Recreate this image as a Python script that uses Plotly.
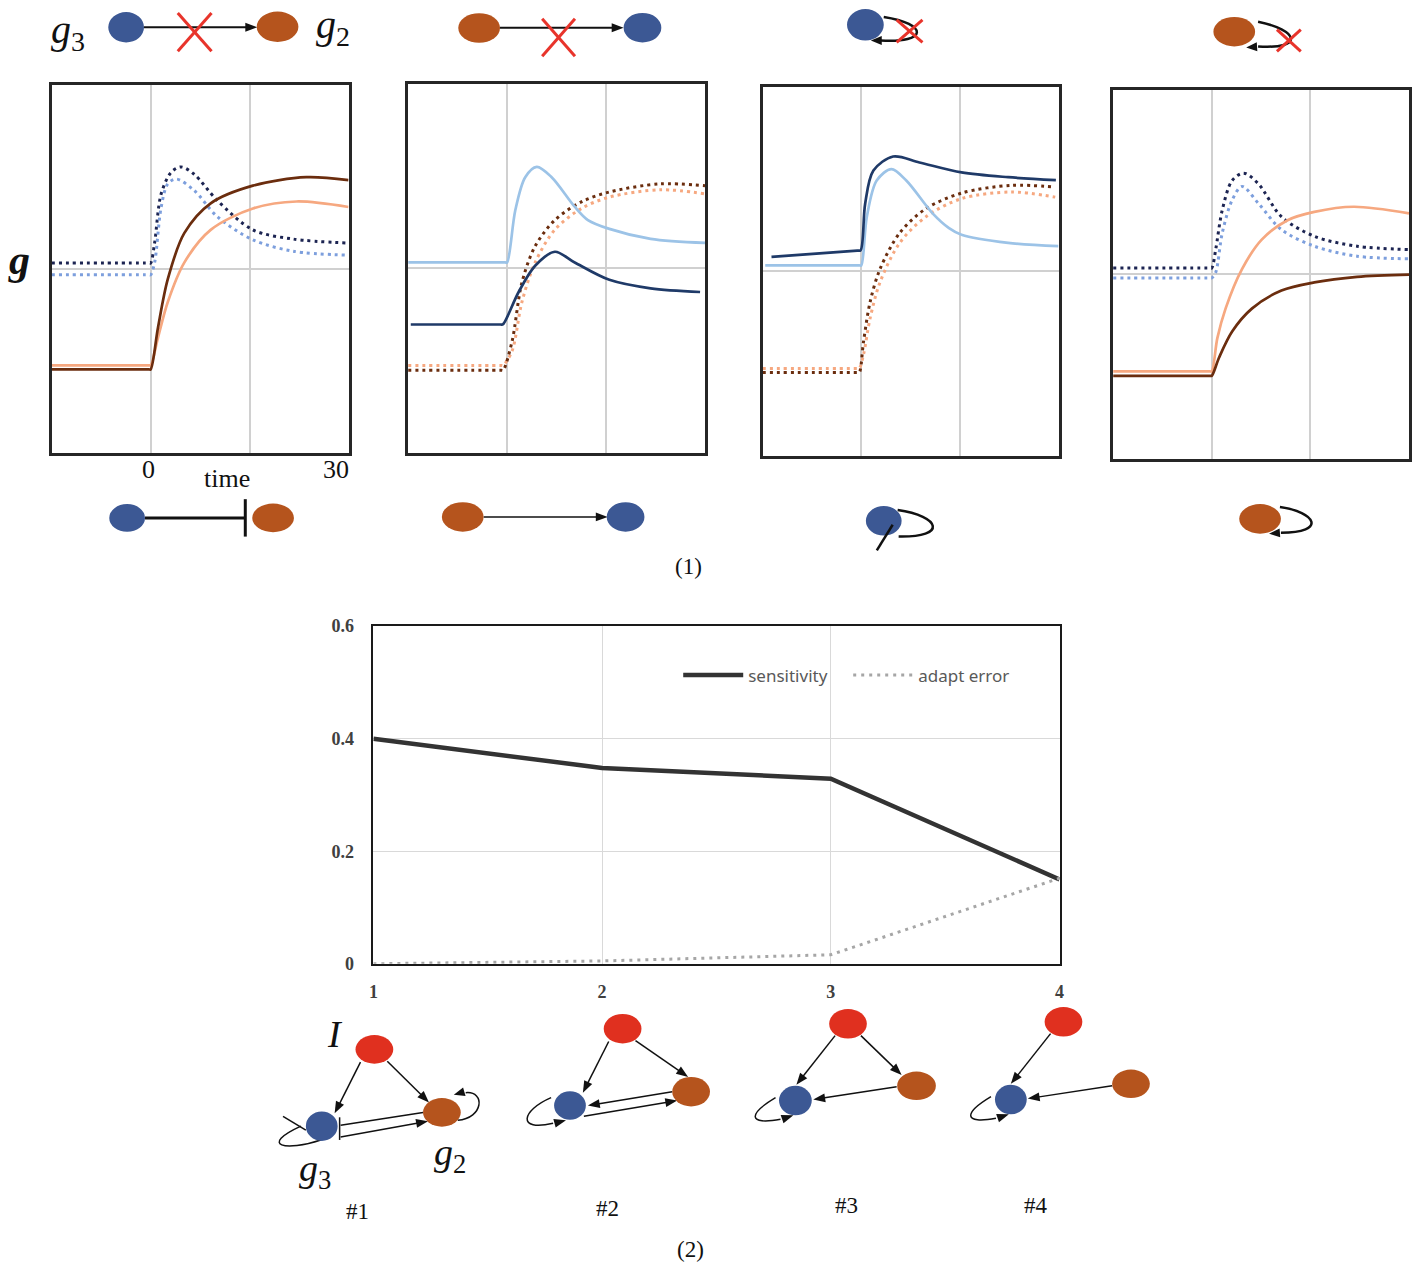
import math
import plotly.graph_objects as go

W, H = 1416, 1272

# ---------------- (1) time courses: four knock-out panels ----------------
# Panel A
tA_navy_dot = [-15, -0.3, 0, 0.6, 1.6, 3.1, 4.6, 6.6, 10.1, 15.5, 21.6, 30]
gA_navy_dot = [5.16, 5.16, 5.16, 5.70, 7.04, 7.62, 7.77, 7.57, 6.86, 6.06, 5.81, 5.70]
tA_lblue_dot = [-15, -0.3, 0, 0.6, 1.6, 2.6, 3.9, 6.6, 10.1, 15.5, 21.6, 30]
gA_lblue_dot = [4.84, 4.84, 4.84, 5.17, 6.68, 7.31, 7.44, 7.13, 6.42, 5.79, 5.48, 5.37]
tA_brown = [-15, -0.3, 0, 1.1, 2.6, 5.1, 9.1, 15.5, 23.6, 30]
gA_brown = [2.27, 2.27, 2.27, 3.39, 4.72, 5.97, 6.78, 7.26, 7.49, 7.41]
tA_peach = [-15, -0.3, 0, 1.1, 2.6, 5.1, 9.1, 15.5, 22.1, 30]
gA_peach = [2.38, 2.38, 2.38, 3.12, 4.10, 5.17, 6.06, 6.64, 6.83, 6.68]

# Panel B
tB_lblue = [-15, -0.3, 0, 1.25, 2.75, 4.5, 6.75, 10.25, 12.25, 15.5, 21.75, 30]
gB_lblue = [5.16, 5.16, 5.16, 6.58, 7.47, 7.75, 7.47, 6.67, 6.31, 6.07, 5.80, 5.69]
tB_navy = [-14.6, -1.0, -0.65, 1.75, 4.25, 7.25, 10.25, 15.5, 21.75, 29.25]
gB_navy = [3.48, 3.48, 3.48, 4.36, 5.07, 5.45, 5.16, 4.69, 4.46, 4.36]
tB_brown_dot = [-15, -0.9, -0.6, 0.75, 2.25, 4.25, 7.25, 11.25, 15.5, 23.25, 30]
gB_brown_dot = [2.24, 2.24, 2.24, 3.02, 4.62, 5.60, 6.31, 6.80, 7.07, 7.29, 7.24]
tB_peach_dot = [-15, -0.9, -0.6, 0.75, 2.25, 4.25, 7.25, 11.25, 15.5, 23.25, 30]
gB_peach_dot = [2.37, 2.37, 2.37, 2.76, 4.09, 5.16, 6.05, 6.62, 6.93, 7.13, 7.02]

# Panel C
tC_navy = [-13.65, -0.6, -0.1, 0.6, 1.85, 4.85, 8.85, 15.25, 22.35, 29.6]
gC_navy = [5.39, 5.56, 5.57, 6.84, 7.73, 8.11, 7.95, 7.68, 7.55, 7.47]
tC_lblue = [-14.6, -0.3, 0, 0.85, 2.35, 4.6, 6.85, 10.85, 13.35, 15.25, 22.35, 30]
gC_lblue = [5.16, 5.16, 5.16, 6.48, 7.46, 7.77, 7.46, 6.57, 6.17, 5.99, 5.77, 5.68]
tC_brown_dot = [-15, -0.6, -0.3, 0.35, 1.35, 2.85, 5.85, 9.85, 15.25, 22.85, 29.5]
gC_brown_dot = [2.26, 2.26, 2.26, 3.10, 4.17, 5.06, 6.04, 6.70, 7.12, 7.33, 7.28]
tC_peach_dot = [-15, -0.6, -0.3, 0.35, 1.35, 2.85, 5.85, 9.85, 15.25, 22.85, 29.5]
gC_peach_dot = [2.37, 2.37, 2.37, 2.75, 3.73, 4.70, 5.77, 6.48, 6.97, 7.15, 7.01]

# Panel D
tD_navy_dot = [-15, -0.3, 0, 0.6, 1.6, 3.1, 4.85, 7.1, 10.6, 15.6, 22.1, 30]
gD_navy_dot = [5.17, 5.17, 5.17, 5.67, 6.74, 7.54, 7.74, 7.45, 6.56, 6.03, 5.76, 5.67]
tD_lblue_dot = [-15, -0.3, 0, 0.6, 1.6, 3.1, 4.6, 7.1, 10.6, 15.6, 22.1, 30]
gD_lblue_dot = [4.90, 4.90, 4.90, 5.05, 6.12, 7.01, 7.38, 6.92, 6.21, 5.76, 5.49, 5.42]
tD_peach = [-15, -0.3, 0, 0.85, 2.1, 4.6, 7.6, 11.6, 15.6, 21.6, 30]
gD_peach = [2.37, 2.37, 2.37, 3.27, 4.07, 5.14, 5.94, 6.47, 6.69, 6.83, 6.65]
tD_brown = [-15, -0.3, 0, 1.1, 3.1, 6.1, 10.6, 15.6, 22.1, 30]
gD_brown = [2.25, 2.25, 2.25, 2.74, 3.45, 4.07, 4.56, 4.78, 4.93, 4.99]

# ---------------- (2) sensitivity vs adaptation error ----------------
models = [1, 2, 3, 4]
sensitivity = [0.40, 0.348, 0.329, 0.150]
adapt_error = [0.0, 0.005, 0.016, 0.152]
y_ticks = [0, 0.2, 0.4, 0.6]
y_tick_text = ['0', '0.2', '0.4', '0.6']
model_labels = ['#1', '#2', '#3', '#4']

# ---------------- styling ----------------
NAVY_DOT = '#1c2452'
LBLUE_DOT = '#7d9fdd'
NAVY = '#1f3a68'
LBLUE = '#9cc3e7'
BROWN = '#6b2d0e'
PEACH = '#f6a880'
BLUE_NODE = '#3c5894'
ORANGE_NODE = '#b5541d'
RED_NODE = '#e0301f'
XRED = '#e8342b'
DOT = '3px,4px'
SERIF = 'Liberation Serif'


def X(px):
    return px / W


def Y(py):
    return 1 - py / H


fig = go.Figure()

panels = [
    [(tA_navy_dot, gA_navy_dot, NAVY_DOT, DOT), (tA_lblue_dot, gA_lblue_dot, LBLUE_DOT, DOT),
     (tA_peach, gA_peach, PEACH, 'solid'), (tA_brown, gA_brown, BROWN, 'solid')],
    [(tB_peach_dot, gB_peach_dot, PEACH, DOT), (tB_brown_dot, gB_brown_dot, BROWN, DOT),
     (tB_lblue, gB_lblue, LBLUE, 'solid'), (tB_navy, gB_navy, NAVY, 'solid')],
    [(tC_peach_dot, gC_peach_dot, PEACH, DOT), (tC_brown_dot, gC_brown_dot, BROWN, DOT),
     (tC_lblue, gC_lblue, LBLUE, 'solid'), (tC_navy, gC_navy, NAVY, 'solid')],
    [(tD_lblue_dot, gD_lblue_dot, LBLUE_DOT, DOT), (tD_navy_dot, gD_navy_dot, NAVY_DOT, DOT),
     (tD_peach, gD_peach, PEACH, 'solid'), (tD_brown, gD_brown, BROWN, 'solid')],
]
boxes = [(47, 346, 76, 450), (406, 705, 75, 450), (763, 1061, 78, 453), (1116, 1414, 81, 456)]

layout_axes = {}
for i, (curves, (bx0, bx1, by0, by1)) in enumerate(zip(panels, boxes), start=1):
    for t, g, col, dash in curves:
        fig.add_trace(go.Scatter(x=t, y=g, mode='lines', xaxis=f'x{i}', yaxis=f'y{i}',
                                 line=dict(color=col, width=3 if dash != 'solid' else 2.7,
                                           dash=dash, shape='spline', smoothing=0.9),
                                 showlegend=False, hoverinfo='skip'))
    layout_axes[f'xaxis{i}'] = dict(domain=[X(bx0), X(bx1)], range=[-15, 30], anchor=f'y{i}',
                                    tickvals=[0, 15], showticklabels=False, showgrid=True,
                                    gridcolor='#d0d0d0', gridwidth=1.5, zeroline=False,
                                    showline=True, mirror=True, linecolor='#262626', linewidth=2.5,
                                    ticks='', fixedrange=True)
    layout_axes[f'yaxis{i}'] = dict(domain=[Y(by1), Y(by0)], range=[0, 10], anchor=f'x{i}',
                                    tickvals=[5], showticklabels=False, showgrid=True,
                                    gridcolor='#d0d0d0', gridwidth=1.5, zeroline=False,
                                    showline=True, mirror=True, linecolor='#262626', linewidth=2.5,
                                    ticks='', fixedrange=True)

# bottom chart
fig.add_trace(go.Scatter(x=models, y=sensitivity, mode='lines', name='sensitivity',
                         xaxis='x5', yaxis='y5', line=dict(color='#333333', width=4.5)))
fig.add_trace(go.Scatter(x=models, y=adapt_error, mode='lines', name='adapt error',
                         xaxis='x5', yaxis='y5', line=dict(color='#a6a6a6', width=3, dash='3px,5px')))

layout_axes['xaxis5'] = dict(domain=[X(371), X(1062)], range=[1, 4], anchor='y5',
                             tickvals=models, ticktext=[str(m) for m in models],
                             showgrid=True, gridcolor='#d9d9d9', gridwidth=1, zeroline=False,
                             showline=True, mirror=True, linecolor='#1a1a1a', linewidth=1.5,
                             ticks='', ticklabelstandoff=11,
                             tickfont=dict(family=SERIF, size=18, color='#404040', weight='bold'))
layout_axes['yaxis5'] = dict(domain=[Y(969), Y(626)], range=[0, 0.6], anchor='x5',
                             tickvals=y_ticks, ticktext=y_tick_text,
                             showgrid=True, gridcolor='#d9d9d9', gridwidth=1, zeroline=False,
                             showline=True, mirror=True, linecolor='#1a1a1a', linewidth=1.5,
                             ticks='', ticklabelstandoff=14,
                             tickfont=dict(family=SERIF, size=18, color='#404040', weight='bold'))

# ---------------- network diagrams (decoration) ----------------
shapes = []
annotations = []


def node(cx, cy, rx, ry, color):
    shapes.append(dict(type='circle', xref='paper', yref='paper', x0=X(cx - rx), x1=X(cx + rx),
                       y0=Y(cy + ry), y1=Y(cy - ry), fillcolor=color, line=dict(width=0), layer='above'))


def seg(x0, y0, x1, y1, color='#111111', width=1.5):
    shapes.append(dict(type='line', xref='paper', yref='paper', x0=X(x0), y0=Y(y0), x1=X(x1), y1=Y(y1),
                       line=dict(color=color, width=width), layer='above'))


def head(tx, ty, fx, fy, L=12, Wd=9, color='#111111'):
    dx, dy = tx - fx, ty - fy
    d = math.hypot(dx, dy)
    ux, uy = dx / d, dy / d
    bx, by = tx - ux * L, ty - uy * L
    nx, ny = -uy, ux
    pts = [(tx, ty), (bx + nx * Wd / 2, by + ny * Wd / 2), (bx - nx * Wd / 2, by - ny * Wd / 2)]
    path = 'M ' + ' L '.join(f'{X(a)},{Y(b)}' for a, b in pts) + ' Z'
    shapes.append(dict(type='path', xref='paper', yref='paper', path=path, fillcolor=color,
                       line=dict(width=0), layer='above'))


def arrow(x0, y0, x1, y1, width=1.5, L=12, Wd=9):
    d = math.hypot(x1 - x0, y1 - y0)
    ux, uy = (x1 - x0) / d, (y1 - y0) / d
    seg(x0, y0, x1 - ux * (L - 2), y1 - uy * (L - 2), width=width)
    head(x1, y1, x0, y0, L, Wd)


def curve(p0, p1, p2, p3, width=1.5):
    path = (f'M {X(p0[0])},{Y(p0[1])} C {X(p1[0])},{Y(p1[1])} {X(p2[0])},{Y(p2[1])} '
            f'{X(p3[0])},{Y(p3[1])}')
    shapes.append(dict(type='path', xref='paper', yref='paper', path=path,
                       line=dict(color='#111111', width=width), fillcolor='rgba(0,0,0,0)', layer='above'))


def cross(x0, y0, x1, y1):
    seg(x0, y0, x1, y1, color=XRED, width=3)
    seg(x0, y1, x1, y0, color=XRED, width=3)


def label(text, px, py, size, xanchor='center', family=SERIF, color='#111111'):
    annotations.append(dict(text=text, x=X(px), y=Y(py), xref='paper', yref='paper', showarrow=False,
                            xanchor=xanchor, yanchor='middle', font=dict(family=family, size=size, color=color)))


# top row (removed links)
arrow(140, 17.5, 254, 17.5, width=2)
node(122, 17.5, 18, 15.5, BLUE_NODE)
node(274.5, 17, 21, 15.5, ORANGE_NODE)
cross(174, 3, 208, 42)
label('<i>g</i><sub>3</sub>', 63, 22, 40)
label('<i>g</i><sub>2</sub>', 330, 17, 40)

arrow(498, 18, 623, 18, width=2)
node(477.5, 18.3, 21, 15, ORANGE_NODE)
node(642, 18, 19, 15, BLUE_NODE)
cross(541, 9, 574, 47)

node(866.5, 15, 18.5, 16, BLUE_NODE)
curve((885, 7), (930, 14), (930, 34), (882, 31), width=2.5)
head(872, 31, 888, 31, L=11, Wd=9)
cross(898, 10, 924, 33)

node(1238, 22, 21, 15, ORANGE_NODE)
curve((1262, 12), (1302, 20), (1310, 40), (1262, 37), width=2.5)
head(1250, 38, 1266, 37, L=11, Wd=9)
cross(1281, 20, 1305, 42)

# second row (remaining links)
seg(141, 516, 242, 516, width=3)
seg(242, 497, 242, 535, width=3)
node(123, 516, 18, 14, BLUE_NODE)
node(270, 516, 21, 14.5, ORANGE_NODE)

arrow(482, 515, 607, 515, width=1.5)
node(461, 515, 21, 15, ORANGE_NODE)
node(625, 515, 19, 15, BLUE_NODE)

node(885, 519, 18, 15, BLUE_NODE)
curve((899, 508), (942, 514), (950, 536), (900, 535), width=2.5)
seg(878, 549, 894, 523, width=2.5)

node(1264, 517, 21, 15, ORANGE_NODE)
curve((1284, 505), (1320, 510), (1332, 531), (1285, 531), width=2.5)
head(1273, 532, 1288, 531, L=11, Wd=9)

# bottom network motifs
# #1
arrow(358, 1069, 332, 1121)
arrow(385, 1068, 427, 1110)
seg(421, 1120, 338, 1133)
arrow(338, 1145, 426, 1129)
seg(337, 1125, 337, 1148)
curve((318, 1148), (283, 1160), (255, 1154), (298, 1134))
seg(280, 1124, 303, 1138)
curve((456, 1128), (482, 1126), (484, 1098), (464, 1100))
head(452, 1102, 466, 1098, L=11, Wd=9)
node(372, 1056, 19, 14.5, RED_NODE)
node(319, 1134, 16, 15, BLUE_NODE)
node(440, 1120, 19, 14.5, ORANGE_NODE)
label('<i>I</i>', 332, 1040, 38)
label('<i>g</i><sub>3</sub>', 312, 1180, 38)
label('<i>g</i><sub>2</sub>', 448, 1163, 38)

# #2
arrow(608, 1048, 582, 1100)
arrow(635, 1047, 688, 1084)
arrow(672, 1099, 587, 1113)
arrow(583, 1124, 677, 1108)
curve((550, 1105), (520, 1118), (515, 1140), (552, 1131))
head(565, 1128, 550, 1132, L=12, Wd=9)
node(622, 1035, 19, 15, RED_NODE)
node(569, 1113, 16, 14.5, BLUE_NODE)
node(691, 1099, 19, 15, ORANGE_NODE)

# #3
arrow(836, 1042, 797, 1092)
arrow(862, 1042, 903, 1082)
arrow(898, 1094, 814, 1107)
curve((776, 1105), (748, 1122), (748, 1133), (781, 1127))
head(794, 1123, 779, 1128, L=12, Wd=9)
node(849, 1030, 19, 15, RED_NODE)
node(796, 1108, 16.5, 15, BLUE_NODE)
node(918, 1093, 19.5, 14.5, ORANGE_NODE)

# #4
arrow(1053, 1040, 1013, 1091)
arrow(1115, 1093, 1030, 1106)
curve((993, 1104), (965, 1121), (965, 1132), (998, 1126))
head(1011, 1122, 996, 1127, L=12, Wd=9)
node(1066, 1028, 19, 15, RED_NODE)
node(1013, 1107, 16, 15, BLUE_NODE)
node(1134, 1091, 19, 14.5, ORANGE_NODE)

# texts
label('<b><i>g</i></b>', 14, 254, 42)
label('0', 145, 467, 26)
label('time', 224, 476, 26)
label('30', 348, 467, 26, xanchor='right')
label('(1)', 688, 565, 23)
label('(2)', 690, 1259, 23)
for lab, px, py in zip(model_labels, [355, 607, 847, 1038], [1221, 1218, 1215, 1215]):
    label(lab, px, py, 23)

fig.update_layout(
    width=W, height=H, autosize=False,
    margin=dict(l=0, r=0, t=0, b=0),
    paper_bgcolor='white', plot_bgcolor='rgba(0,0,0,0)',
    shapes=shapes, annotations=annotations,
    showlegend=True,
    legend=dict(orientation='h', x=X(678), y=Y(676), xanchor='left', yanchor='middle',
                bgcolor='rgba(0,0,0,0)', font=dict(family='Noto Sans', size=17, color='#595959'),
                itemwidth=60, entrywidth=95),
)
fig.update_layout(**layout_axes)

fig.write_html('out.html', config={'displayModeBar': False},
               post_script="document.body.style.margin='0px';document.body.style.overflow='hidden';")
